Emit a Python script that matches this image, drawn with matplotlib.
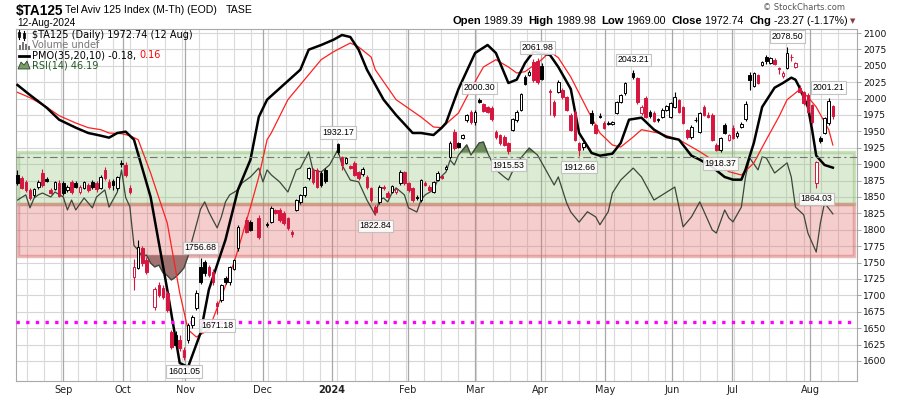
import numpy as np
import matplotlib
import matplotlib.pyplot as plt
import matplotlib.transforms as mtransforms
from matplotlib.patches import Rectangle, Polygon
from matplotlib.lines import Line2D

matplotlib.use("agg")

# daily candles, x = trading day number counted from 14 Aug 2023
days = (list(range(0, 32)) + list(range(33, 54)) + [55, 56, 58] + list(range(60, 75))
        + list(range(77, 127)) + list(range(128, 137)) + list(range(138, 147))
        + list(range(148, 197)))
opens = [1883, 1879, 1873, 1861, 1853, 1865, 1886, 1877, 1861, 1862, 1872, 1871, 1861, 1873,
         1871, 1857, 1864, 1868, 1873, 1871, 1864, 1891, 1873, 1874, 1864, 1900, 1899, 1864,
         1728, 1742, 1772, 1754,
         1683, 1716, 1712, 1704, 1644, 1640, 1632, 1617, 1632, 1655, 1681, 1743, 1751, 1743,
         1736, 1688, 1693, 1727, 1720, 1740, 1772,
         1815, 1812, 1818,
         1809, 1812, 1830, 1830, 1826, 1818, 1796, 1830, 1842, 1853, 1879, 1891, 1891, 1886, 1891,
         1931, 1911, 1902, 1897, 1902, 1888, 1885, 1880, 1864, 1835, 1842, 1866, 1856, 1858,
         1858, 1871, 1888, 1871, 1864, 1850, 1845, 1871, 1866, 1858, 1876, 1882, 1893, 1911,
         1949, 1932, 1940, 1967, 1980, 1964, 1998, 1992, 1987, 1986, 1949, 1944, 1941, 1932,
         1952, 1967, 1983, 2033, 2036, 2056, 2058, 2050,
         2012, 1995, 2010, 2013, 2002, 1975, 1980, 1932, 1926,
         1978, 1960, 1973, 1963, 1962, 1961, 1978, 1995, 2008,
         2039, 2031, 1978, 2001, 1980, 1978, 1969, 1972, 1983, 1972, 1987, 1998, 1987, 1952,
         1941, 1968, 1949, 1987, 1975, 1975, 1929, 1922, 1960, 1937, 1955, 1943, 1957, 1969,
         2036, 2019, 2036, 2051, 2063, 2054, 2059, 2046, 2034, 2047, 2063, 2048, 2016, 2010,
         2005, 1990, 1871, 1940, 1948, 1963, 1989.39]
highs = [1891, 1882, 1876, 1863, 1864, 1876, 1892, 1880, 1864, 1875, 1876, 1874, 1868, 1876,
         1874, 1868, 1875, 1872, 1876, 1874, 1884, 1895, 1878, 1877, 1882, 1906, 1903, 1868,
         1755, 1784, 1776, 1758,
         1713, 1720, 1716, 1707, 1648, 1645, 1640, 1622, 1658, 1670, 1708, 1756.68, 1754, 1746,
         1740, 1692, 1718, 1730, 1745, 1756, 1808,
         1820, 1815, 1822,
         1812, 1836, 1832, 1833, 1829, 1820, 1800, 1847, 1855, 1867, 1896, 1894, 1894, 1889, 1894,
         1932.17, 1913, 1911, 1899, 1905, 1890, 1896, 1884, 1866, 1838, 1868, 1869, 1859, 1869,
         1864, 1891, 1890, 1873, 1866, 1853, 1878, 1874, 1868, 1875, 1890, 1884, 1899, 1935,
         1953, 1934, 1946, 1977, 1983, 1982, 2000.30, 1994, 1989, 1988, 1952, 1946, 1944, 1934,
         1971, 1982, 2009, 2036, 2043, 2060, 2061.98, 2055,
         2014, 1998, 2028, 2016, 2004, 1978, 1983, 1934, 1934,
         1982, 1962, 1978, 1966, 1966, 1966, 1997, 2007, 2026,
         2043.21, 2033, 1990, 2004, 1983, 1981, 1971, 1985, 1991, 1995, 2010, 2000, 1989, 1954,
         1959, 1972, 1980, 1990, 1980, 1978, 1932, 1942, 1963, 1946, 1960, 1950, 1965, 1997,
         2040, 2041, 2038, 2058, 2066, 2064, 2062, 2048, 2042, 2078.50, 2068, 2056, 2020, 2012,
         2008, 1992, 1905, 1943, 1972, 2001.21, 1989.98]
lows = [1868, 1862, 1858, 1845, 1850, 1862, 1866, 1873, 1854, 1860, 1850, 1853, 1858, 1855,
        1864, 1854, 1862, 1858, 1862, 1858, 1862, 1876, 1862, 1860, 1861, 1896, 1880, 1854,
        1708, 1740, 1745, 1733,
        1678, 1698, 1695, 1675, 1618, 1622, 1615, 1601.05, 1628, 1650, 1678, 1718, 1730, 1728,
        1716, 1671.18, 1690, 1718, 1716, 1738, 1768,
        1795, 1798, 1786,
        1805, 1810, 1824, 1812, 1808, 1800, 1789, 1828, 1840, 1850, 1876, 1870, 1864, 1866, 1872,
        1916, 1891, 1900, 1892, 1882, 1876, 1882, 1862, 1843, 1822.84, 1840, 1861, 1848, 1856,
        1855, 1869, 1868, 1858, 1843, 1845, 1843, 1867, 1859, 1856, 1874, 1877, 1891, 1908,
        1922, 1924, 1938, 1964, 1962, 1960, 1993, 1979, 1978, 1966, 1938, 1930, 1928, 1915.53,
        1950, 1965, 1981, 2020, 2034, 2026, 2023, 2028,
        1975, 1972, 2008, 2000, 1981, 1950, 1935, 1912.66, 1922,
        1960, 1946, 1970, 1953, 1960, 1959, 1976, 1993, 2006,
        2030, 1992, 1975, 1970, 1970, 1964, 1965, 1970, 1981, 1970, 1985, 1978, 1961, 1939,
        1939, 1965, 1947, 1973, 1970, 1935, 1920, 1918.37, 1946, 1935, 1938, 1940, 1955, 1966,
        2013, 2017, 2022, 2049, 2052, 2052, 2051, 2038, 2032, 2045, 2058, 2046, 2008, 1991,
        1978, 1962, 1864.03, 1932, 1946, 1960, 1969.00]
closes = [1871, 1864, 1861, 1848, 1862, 1873, 1868, 1875, 1856, 1873, 1852, 1856, 1865, 1857,
          1866, 1865, 1873, 1861, 1865, 1862, 1880, 1879, 1866, 1868, 1880, 1902, 1883, 1858,
          1743, 1774, 1749, 1736,
          1710, 1701, 1698, 1678, 1621, 1625, 1620, 1606, 1655, 1667, 1704, 1720, 1734, 1731,
          1720, 1684, 1716, 1720, 1743, 1754, 1804,
          1797, 1800, 1789,
          1807, 1833, 1826, 1815, 1810, 1802, 1793, 1845, 1853, 1865, 1894, 1873, 1866, 1868, 1875,
          1919, 1899, 1909, 1894, 1884, 1879, 1893, 1865, 1845, 1827, 1865, 1864, 1850, 1867,
          1862, 1888, 1871, 1861, 1845, 1848, 1876, 1869, 1861, 1873, 1887, 1879, 1896, 1932,
          1925, 1926, 1944, 1975, 1964, 1980, 1995, 1981, 1980, 1969, 1941, 1932, 1930, 1920,
          1969, 1980, 2007, 2022, 2041, 2028, 2025, 2030,
          2010, 1975, 2025, 2002, 1983, 1952, 1937, 1922, 1932,
          1963, 1948, 1972, 1955, 1963, 1964, 1995, 2005, 2024,
          2033, 1995, 1987, 1972, 1973, 1966, 1967, 1983, 1989, 1993, 2002, 1980, 1963, 1941,
          1957, 1967, 1978, 1975, 1972, 1937, 1922, 1940, 1948, 1944, 1940, 1947, 1961, 1992,
          2028, 2039, 2024, 2056, 2057, 2062, 2053, 2045, 2039, 2070, 2064, 2054, 2010, 1993,
          1980, 1964, 1903, 1935, 1970, 1996.01, 1972.74]

# PMO(35,20,10) line and its signal line
pmo_days = [0, 3, 7, 10, 14, 17, 20, 22, 24, 26, 28, 32, 36, 39, 41, 44, 46, 50, 53, 56, 58, 60,
            68, 70, 73, 76, 78, 80, 82, 84, 88, 91, 95, 97, 100, 102, 103, 106, 110, 113, 115,
            117, 118, 120, 122, 124, 128, 130, 133, 135, 138, 140, 143, 145, 147, 150, 153, 156,
            159, 162, 164, 167, 170, 172, 174, 175, 177, 179, 182, 184, 186, 187, 188, 190, 191,
            192, 194, 196]
pmo_vals = [1.06, 0.91, 0.72, 0.54, 0.42, 0.34, 0.30, 0.27, 0.34, 0.36, 0.24, -0.62, -2.01, -3.11,
            -3.17, -2.66, -2.01, -1.26, -0.51, -0.06, 0.58, 0.84, 1.29, 1.59, 1.66, 1.74, 1.81,
            1.78, 1.59, 1.29, 0.84, 0.61, 0.34, 0.34, 0.31, 0.42, 0.49, 1.00, 1.54, 1.66, 1.54,
            1.24, 1.09, 1.14, 1.39, 1.56, 1.51, 1.33, 1.00, 0.34, 0.04, 0.00, 0.03, 0.19, 0.54,
            0.57, 0.39, 0.28, 0.24, 0.00, -0.06, -0.17, -0.32, -0.36, -0.36, -0.21, 0.19, 0.73,
            1.02, 1.09, 1.17, 1.14, 1.02, 0.73, 0.39, 0.00, -0.14, -0.18]
sig_days = [0, 3, 7, 10, 14, 17, 20, 22, 25, 27, 29, 32, 36, 39, 41, 43, 46, 49, 52, 53, 56, 58,
            60, 61, 65, 71, 73, 76, 80, 82, 85, 86, 91, 97, 100, 102, 106, 109, 112, 115, 118,
            120, 122, 126, 128, 130, 133, 137, 140, 143, 145, 148, 150, 154, 159, 164, 167, 171,
            174, 177, 180, 183, 185, 188, 190, 192, 195, 196]
sig_vals = [0.95, 0.87, 0.73, 0.60, 0.49, 0.42, 0.39, 0.34, 0.33, 0.30, 0.24, -0.26, -1.01, -2.06,
            -2.61, -2.72, -2.61, -2.12, -1.61, -1.41, -0.77, -0.32, 0.24, 0.34, 0.84, 1.29, 1.44,
            1.56, 1.69, 1.63, 1.48, 1.29, 0.84, 0.58, 0.43, 0.42, 0.64, 1.00, 1.33, 1.44, 1.33,
            1.24, 1.26, 1.44, 1.56, 1.47, 1.18, 0.69, 0.34, 0.16, 0.13, 0.28, 0.39, 0.34, 0.24,
            0.06, -0.06, -0.24, -0.29, -0.11, 0.24, 0.58, 0.84, 0.99, 0.88, 0.73, 0.39, 0.16]

# RSI(14)
rsi_days = [0, 2, 3, 4, 5, 6, 8, 9, 11, 12, 13, 14, 16, 18, 19, 21, 22, 24, 25, 26, 27, 28, 29,
            30, 31, 32, 33, 34, 35, 36, 37, 38, 39, 40, 41, 42, 43, 44, 45, 46, 47, 48, 49, 50,
            51, 53, 54, 56, 58, 59, 60, 61, 63, 65, 67, 68, 70, 71, 73, 75, 77, 78, 80, 82, 84,
            86, 87, 88, 89, 90, 91, 93, 94, 96, 97, 98, 100, 101, 103, 104, 105, 106, 108, 109,
            111, 112, 113, 115, 117, 118, 120, 123, 125, 127, 129, 130, 132, 133, 135, 137, 139,
            140, 142, 143, 145, 148, 150, 153, 155, 158, 160, 162, 164, 167, 168, 170, 171, 172,
            174, 175, 176, 178, 179, 180, 182, 185, 186, 187, 189, 190, 192, 193, 194, 196]
rsi_vals = [51.5, 53.5, 48.5, 52.3, 53.5, 54.2, 52.7, 54.6, 52.7, 47.7, 51.5, 47.7, 52.3, 48.5,
            52.7, 55.4, 48.8, 54.6, 63.1, 52.5, 49.0, 34.0, 32.3, 29.6, 30.4, 27.3, 25.8, 26.5,
            23.5, 22.5, 20.8, 21.9, 23.5, 25.4, 30.0, 36.2, 42.0, 48.0, 50.8, 46.9, 43.8, 40.8,
            45.0, 50.8, 53.5, 55.4, 58.1, 60.4, 63.8, 58.5, 63.1, 61.2, 58.5, 54.6, 63.1, 63.8,
            70.0, 63.1, 62.3, 65.0, 70.8, 65.0, 59.2, 58.5, 51.5, 45.8, 51.5, 52.3, 50.8, 54.2,
            56.2, 53.5, 48.5, 46.9, 51.5, 53.5, 55.4, 59.2, 62.3, 66.9, 65.0, 68.8, 72.7, 68.8,
            73.5, 73.8, 69.6, 63.1, 60.4, 59.2, 65.8, 71.5, 68.8, 63.1, 57.3, 60.4, 50.4, 46.9,
            43.0, 47.0, 45.0, 42.0, 47.0, 54.2, 59.2, 63.8, 60.4, 51.5, 53.5, 56.5, 41.2, 45.0,
            50.8, 40.0, 38.8, 47.7, 44.6, 43.1, 48.8, 60.4, 67.7, 63.1, 68.1, 67.7, 61.9, 65.8,
            60.4, 48.8, 45.8, 38.8, 31.5, 42.7, 50.4, 46.19]

# swing labels
high_label_days = [44, 77, 111, 125, 148, 185, 195]
low_label_days = [40, 48, 86, 118, 135, 169, 192]

# horizontal lines drawn on the chart
support_line = 1660
dash_line = 1911

month_pos = [11, 25.4, 40.3, 59, 75.5, 93.8, 110, 125.8, 141.2, 157.3, 171.8, 190.5]
month_labels = ["Sep", "Oct", "Nov", "Dec", "2024", "Feb", "Mar", "Apr", "May", "Jun", "Jul", "Aug"]

days = np.array(days)
opens = np.array(opens, dtype=float)
highs = np.array(highs, dtype=float)
lows = np.array(lows, dtype=float)
closes = np.array(closes, dtype=float)

W, H = 900, 396
RED = "#d6163f"


def fx(x):
    return x / W


def fy(y):
    return 1 - y / H


fig = plt.figure(figsize=(W / 100, H / 100), dpi=100)
ax_rsi = fig.add_axes([fx(16), fy(381), (857 - 16) / W, (381 - 29) / H])
ax_pmo = ax_rsi.twinx()
ax = ax_rsi.twinx()

ax_rsi.set_xlim(-0.36, 201.8)
ax.set_ylim(1569.5, 2106.1)
ax_rsi.set_ylim(-18.1, 117.3)
ax_pmo.set_ylim(-3.38, 1.90)

# grid
gtr = mtransforms.blended_transform_factory(ax_rsi.transAxes, ax.transData)
for p in range(1600, 2101, 25):
    ax_rsi.plot([0, 1], [p, p], transform=gtr, color="#d6d6d6", lw=0.8, zorder=0.5)
for x in np.arange(2.2, 201, 4.15):
    ax_rsi.axvline(x, color="#dadada", lw=0.8, zorder=0.5)
for x in month_pos:
    ax_rsi.axvline(x, color="#a8a8a8", lw=0.9, zorder=0.6)

# RSI bands and line
ax_rsi.axhspan(50, 70, xmin=0.002, xmax=0.997, facecolor=(0.55, 0.75, 0.45, 0.30),
               edgecolor=(0.55, 0.75, 0.45, 0.45), lw=2.5, zorder=1)
ax_rsi.axhspan(30, 50, xmin=0.002, xmax=0.997, facecolor=(0.88, 0.40, 0.40, 0.32),
               edgecolor=(0.85, 0.40, 0.40, 0.45), lw=2.5, zorder=1)
rd = np.array(rsi_days, dtype=float)
rv = np.array(rsi_vals)
ax_rsi.fill_between(rd, rv, 70, where=rv > 70, interpolate=True, color="#6e8c5e", zorder=2)
ax_rsi.fill_between(rd, rv, 30, where=rv < 30, interpolate=True, color="#a07270", zorder=2)
ax_rsi.plot(rd, rv, color="#3c463a", lw=0.9, zorder=2.5)

# PMO
ax_pmo.plot(sig_days, sig_vals, color="#ff2020", lw=0.9)
ax_pmo.plot(pmo_days, pmo_vals, color="black", lw=1.8)

# horizontal lines
ax.axhline(dash_line, color="#767676", lw=0.8, dashes=(7, 3, 2, 3), zorder=1)
ax.axhline(support_line, color="#ff00ff", lw=2.4, dashes=(1, 1.9), zorder=1.5)

# candles
prev = np.concatenate([[closes[0]], closes[:-1]])
cols = np.where(closes < prev, RED, "black")
faces = np.where(closes > opens, "white", cols)
ax.vlines(days, lows, highs, colors=cols, lw=0.8, zorder=3)
body_lo = np.minimum(opens, closes)
body_h = np.maximum(np.abs(closes - opens), 1.0)
ax.bar(days, body_h, bottom=body_lo, width=0.62, color=faces, edgecolor=cols, linewidth=0.7,
       zorder=3.5)

# swing labels
for d in high_label_days:
    k = list(days).index(d)
    ax.annotate(f"{highs[k]:.2f}", (d, highs[k]), xytext=(0, 7.5), textcoords="offset points",
                ha="center", va="center", fontsize=6.3, family="Liberation Sans", zorder=5,
                bbox=dict(boxstyle="square,pad=0.2", fc="white", ec="#bdbdbd", lw=0.8, alpha=0.9))
for d in low_label_days:
    k = list(days).index(d)
    ax.annotate(f"{lows[k]:.2f}", (d, lows[k]), xytext=(0, -8), textcoords="offset points",
                ha="center", va="center", fontsize=6.3, family="Liberation Sans", zorder=5,
                bbox=dict(boxstyle="square,pad=0.2", fc="white", ec="#bdbdbd", lw=0.8, alpha=0.9))

# axes styling
for a in (ax_pmo, ax):
    for s in a.spines.values():
        s.set_visible(False)
for s in ax_rsi.spines.values():
    s.set_color("#a8a8a8")
    s.set_linewidth(0.8)
ax_rsi.spines["bottom"].set_linestyle((0, (1, 1)))
ax_rsi.set_yticks([])
ax_pmo.set_yticks([])
ax.set_yticks(range(1600, 2101, 25))
ax.tick_params(axis="y", right=True, length=3, width=0.6, color="#999999", pad=1.5,
               labelsize=6.6, labelcolor="#111111")
ax_rsi.set_xticks(month_pos)
ax_rsi.set_xticklabels(month_labels)
ax_rsi.tick_params(axis="x", length=0, pad=3, labelsize=7, labelcolor="#222222")
ax_rsi.get_xticklabels()[4].set_fontweight("bold")

# titles
fig.text(fx(16), fy(15), "$TA125", fontsize=9.8, weight="bold", family="Liberation Sans",
         va="baseline")
fig.text(fx(65), fy(13), "Tel Aviv 125 Index (M-Th) (EOD)", fontsize=7.6,
         family="Liberation Sans", va="baseline")
fig.text(fx(226), fy(13), "TASE", fontsize=7.6, family="Liberation Sans", va="baseline")
fig.text(fx(17), fy(26), "12-Aug-2024", fontsize=7.2, family="Liberation Sans", va="baseline")
fig.text(fx(845), fy(10), "\u00a9 StockCharts.com", fontsize=6, color="#555555",
         family="DejaVu Sans", ha="right", va="baseline")

chg = closes[-1] - closes[-2]
pct = chg / closes[-2] * 100
parts = [("Open", True), (f" {opens[-1]:.2f}  ", False), ("High", True),
         (f" {highs[-1]:.2f}  ", False), ("Low", True), (f" {lows[-1]:.2f}  ", False),
         ("Close", True), (f" {closes[-1]:.2f}  ", False), ("Chg", True),
         (f" {chg:.2f} ({pct:.2f}%)", False)]
r = fig.canvas.get_renderer()
texts = []
for s, b in parts:
    t = fig.text(0, fy(24), s.replace(" ", "\u00a0"), fontsize=8.1 if b else 7.7,
                 weight="bold" if b else "normal", family="Liberation Sans", va="baseline")
    texts.append(t)
widths = [t.get_window_extent(renderer=r).width for t in texts]
x = 848 - sum(widths)
for t, w in zip(texts, widths):
    t.set_x(fx(x))
    x += w
fig.text(fx(850), fy(23), "\u25bc", fontsize=5, color="#8b3a3a", family="DejaVu Sans",
         va="baseline")

# legend block
fig.text(fx(32), fy(38.5), f"$TA125 (Daily) {closes[-1]:.2f} (12 Aug)", fontsize=7,
         family="DejaVu Sans", va="baseline")
fig.text(fx(32), fy(48.5), "Volume undef", fontsize=7, family="DejaVu Sans", color="#777777",
         va="baseline")
t = fig.text(fx(32), fy(58.5), f"PMO(35,20,10) {pmo_vals[-1]:.2f}, ", fontsize=7,
             family="DejaVu Sans", va="baseline")
wpm = t.get_window_extent(renderer=r).width
fig.text(fx(32 + wpm), fy(58.5), f"{sig_vals[-1]:.2f}", fontsize=7, family="DejaVu Sans",
         color="red", va="baseline")
fig.text(fx(32), fy(68.5), f"RSI(14) {rsi_vals[-1]:.2f}", fontsize=7, family="DejaVu Sans",
         color="#1f5a1f", va="baseline")

# legend icons
fig.add_artist(Line2D([fx(19), fx(19)], [fy(30), fy(39)], color="black", lw=0.8))
fig.add_artist(Rectangle((fx(18), fy(37)), 2 / W, 5 / H, fc="black", ec="black", lw=0.5))
fig.add_artist(Line2D([fx(24), fx(24)], [fy(31), fy(40)], color="black", lw=0.8))
fig.add_artist(Rectangle((fx(23), fy(38)), 2 / W, 5 / H, fc="white", ec="black", lw=0.6))
for bx, bh in [(19, 5), (22, 8), (25, 6), (28, 4)]:
    fig.add_artist(Rectangle((fx(bx), fy(50)), 2 / W, bh / H, fc="#777777", ec="none"))
fig.add_artist(Line2D([fx(19), fx(29)], [fy(55.5), fy(55.5)], color="black", lw=2))
fig.add_artist(Polygon([(fx(18), fy(69)), (fx(21), fy(62)), (fx(24), fy(65)), (fx(27), fy(61)),
                        (fx(30), fy(69))], closed=True, fc="#7a9a6a", ec="#2a4a2a", lw=0.6))

fig.savefig("out.png", dpi=100, facecolor="white")
